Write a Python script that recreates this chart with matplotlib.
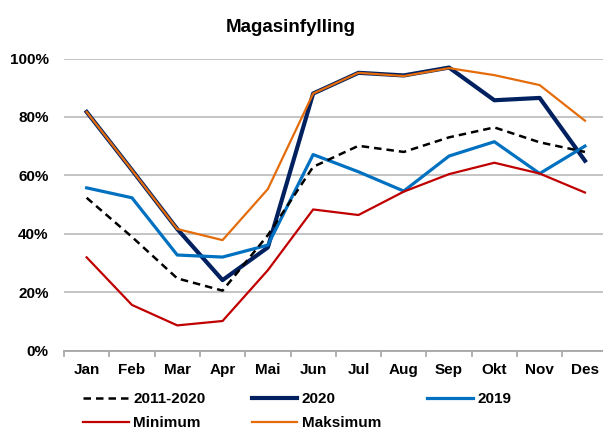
import numpy as np
import matplotlib
matplotlib.use("Agg")
import matplotlib.pyplot as plt
from matplotlib.ticker import FixedLocator, PercentFormatter

plt.rcParams['font.family'] = ['Liberation Sans', 'DejaVu Sans']
plt.rcParams['font.weight'] = 'bold'

months = ["Jan", "Feb", "Mar", "Apr", "Mai", "Jun", "Jul", "Aug", "Sep", "Okt", "Nov", "Des"]

snitt = [52.3, 38.9, 24.7, 20.5, 39.5, 62.9, 70.1, 68.0, 73.0, 76.4, 71.3, 68.0]
y2020 = [81.7, 61.8, 41.6, 24.1, 35.3, 88.0, 95.1, 94.2, 96.9, 85.7, 86.5, 65.0]
y2019 = [55.7, 52.3, 32.7, 32.0, 36.1, 67.1, 61.2, 54.6, 66.6, 71.5, 60.6, 70.0]
minimum = [31.9, 15.6, 8.6, 10.1, 27.5, 48.3, 46.4, 54.4, 60.4, 64.3, 60.6, 54.1]
maksimum = [81.7, 61.8, 41.6, 37.8, 55.3, 88.0, 95.1, 94.0, 96.7, 94.3, 90.9, 78.7]

fig = plt.figure(figsize=(6.03, 4.32), dpi=100)
ax = fig.add_axes([64 / 603, 81.5 / 432, 543.6 / 603, 292 / 432])

x = np.arange(len(months))
l1, = ax.plot(x, snitt, color="black", lw=1.8, ls=(0, (3, 2)), label="2011-2020", zorder=4)
l2, = ax.plot(x, y2020, color="#002060", lw=3.0, label="2020", zorder=3)
l3, = ax.plot(x, y2019, color="#0070C0", lw=2.3, label="2019", zorder=3.5)
l4, = ax.plot(x, minimum, color="#C00000", lw=1.6, label="Minimum", zorder=5)
l5, = ax.plot(x, maksimum, color="#E46C0A", lw=1.6, label="Maksimum", zorder=5)

ax.set_xlim(-0.5, 11.5)
ax.set_ylim(0, 100)
ax.set_yticks([0, 20, 40, 60, 80, 100])
ax.yaxis.set_major_formatter(PercentFormatter(decimals=0))
ax.grid(axis="y", color="#BFBFBF", lw=1.3)
ax.set_axisbelow(True)

# ticks between categories, labels in the middle
ax.xaxis.set_major_locator(FixedLocator(np.arange(-0.5, 12, 1)))
ax.xaxis.set_minor_locator(FixedLocator(x))
ax.set_xticklabels([], minor=False)
ax.set_xticklabels(months, minor=True)
ax.tick_params(axis="x", which="major", length=4, width=1.2, color="#A6A6A6", direction="out")
ax.tick_params(axis="x", which="minor", length=0, pad=9, labelsize=11)
ax.tick_params(axis="y", length=0, pad=11, labelsize=11)

for s in ["top", "right", "left"]:
    ax.spines[s].set_visible(False)
ax.spines["bottom"].set_color("#A6A6A6")
ax.spines["bottom"].set_linewidth(1.3)

fig.text(291 / 603, 1 - 28 / 432, "Magasinfylling", ha="center", va="center",
         fontsize=13.5, fontweight="bold")

fig.legend(handles=[l1, l4, l2, l5, l3], ncol=3, frameon=False, fontsize=11,
           loc="upper left", bbox_to_anchor=(83 / 603, 1 - 392 / 432),
           borderpad=0, borderaxespad=0, handlelength=3.0, handletextpad=0.3,
           columnspacing=3.0, labelspacing=0.65)

fig.savefig("out.png", dpi=100)
